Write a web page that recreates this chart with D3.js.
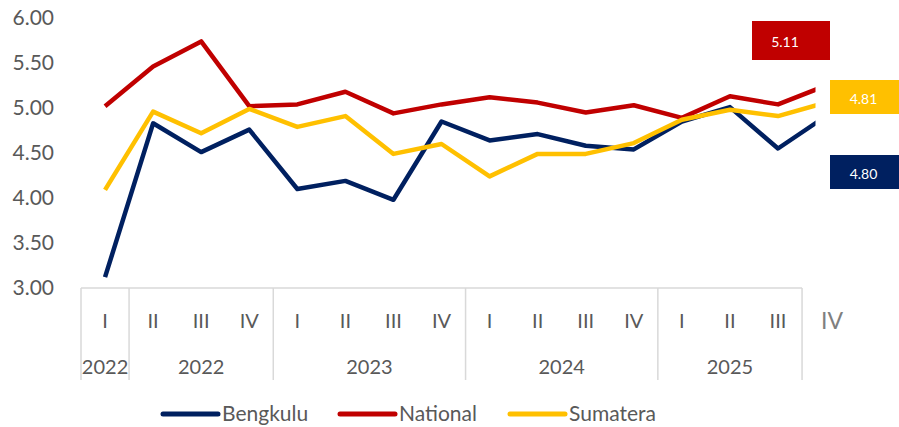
<!DOCTYPE html>
<html>
<head>
<meta charset="utf-8">
<script src="https://cdn.jsdelivr.net/npm/d3@7"></script>
<style>
  html, body { margin: 0; padding: 0; background: #fff; }
  svg { display: block; }
  text { font-family: Lato, "Open Sans", "Liberation Sans", sans-serif; }
</style>
</head>
<body>
<svg id="chart" width="899" height="427"></svg>
<script>
// ---- data ----
const quarters = ["I","II","III","IV","I","II","III","IV","I","II","III","IV","I","II","III","IV"];
const yearGroups = ["2022","2022","2023","2024","2025"];
const groupSizes = [1, 3, 4, 4, 3];
const bengkulu = [3.12,4.83,4.51,4.76,4.10,4.19,3.98,4.85,4.64,4.71,4.58,4.54,4.85,5.01,4.55,4.91];
const national = [5.02,5.46,5.74,5.02,5.04,5.18,4.94,5.04,5.12,5.06,4.95,5.03,4.89,5.13,5.04,5.25];
const sumatera = [4.09,4.96,4.72,4.99,4.79,4.91,4.49,4.60,4.24,4.49,4.49,4.61,4.87,4.98,4.91,5.06];
const seriesNames = ["Bengkulu","National","Sumatera"];
const seriesColors = ["#002060","#C00000","#FFC000"];
const latestLabels = ["4.80","5.11","4.81"];
const yTicks = [3.0,3.5,4.0,4.5,5.0,5.5,6.0];

// ---- layout ----
const svg = d3.select("#chart");
const step = 48.07;
const x0 = 81;
const x = d3.scaleBand().domain(d3.range(quarters.length)).range([x0, x0 + step * quarters.length]).padding(0);
const cx = i => x(i) + x.bandwidth() / 2;
const y = d3.scaleLinear().domain([3, 6]).range([288, 18]);
const grey = "#595959";
const axisGrey = "#d9d9d9";

// y axis labels
const yAxis = d3.axisLeft(y).tickValues(yTicks).tickFormat(d3.format(".2f")).tickSize(0).tickPadding(0);
const yg = svg.append("g").attr("transform", "translate(54,0)").call(yAxis);
yg.select(".domain").remove();
yg.selectAll("text").attr("fill", grey).style("font-size", "21px").style("font-family", "Lato, 'Open Sans', sans-serif");

// category axis box
const nBox = d3.sum(groupSizes);
const boxRight = x0 + step * nBox;
const axisG = svg.append("g");
axisG.append("line").attr("x1", x0).attr("x2", boxRight).attr("y1", 288).attr("y2", 288)
  .attr("stroke", axisGrey).attr("stroke-width", 1.5);
let acc = 0;
const bounds = [0];
groupSizes.forEach(n => { acc += n; bounds.push(acc); });
bounds.forEach(b => {
  axisG.append("line").attr("x1", x0 + step * b).attr("x2", x0 + step * b)
    .attr("y1", 288).attr("y2", 380).attr("stroke", axisGrey).attr("stroke-width", 1.5);
});
// quarter labels
quarters.forEach((q, i) => {
  const last = i >= nBox;
  axisG.append("text")
    .attr("x", cx(i) + (last ? 6 : 0)).attr("y", 320)
    .attr("text-anchor", "middle").attr("dominant-baseline", "central")
    .attr("fill", last ? "#7f7f7f" : grey)
    .style("font-size", last ? "23px" : "20px")
    .text(q);
});
// year labels
yearGroups.forEach((yr, g) => {
  const start = bounds[g], end = bounds[g + 1];
  axisG.append("text")
    .attr("x", x0 + step * (start + end) / 2).attr("y", 366)
    .attr("text-anchor", "middle").attr("dominant-baseline", "central")
    .attr("fill", grey).style("font-size", "20px")
    .text(yr);
});

// lines
svg.append("defs").append("clipPath").attr("id", "clip")
  .append("rect").attr("x", 0).attr("y", 0).attr("width", 815.5).attr("height", 427);
const line = d3.line().x((d, i) => cx(i)).y(d => y(d));
const seriesData = [bengkulu, national, sumatera];
const drawOrder = [1, 0, 2];
const lg = svg.append("g").attr("clip-path", "url(#clip)");
drawOrder.forEach(k => {
  lg.append("path").datum(seriesData[k]).attr("d", line)
    .attr("fill", "none").attr("stroke", seriesColors[k])
    .attr("stroke-width", 4.5).attr("stroke-linejoin", "round");
});

// value boxes
const boxes = [
  {x: 830, y: 155, w: 69, h: 34},
  {x: 752, y: 21, w: 78, h: 39},
  {x: 830, y: 80, w: 69, h: 34}
];
boxes.forEach((b, k) => {
  svg.append("rect").attr("x", b.x).attr("y", b.y).attr("width", b.w).attr("height", b.h)
    .attr("fill", seriesColors[k]);
  svg.append("text").attr("x", b.x + (k === 1 ? 33 : b.w / 2 - 1)).attr("y", b.y + b.h / 2 + 1)
    .attr("text-anchor", "middle").attr("dominant-baseline", "central")
    .attr("fill", "#fff").style("font-size", "14px").text(latestLabels[k]);
});

// legend
const legendX = [163, 340, 510];
seriesNames.forEach((name, k) => {
  svg.append("line").attr("x1", legendX[k]).attr("x2", legendX[k] + 55)
    .attr("y1", 414).attr("y2", 414).attr("stroke", seriesColors[k])
    .attr("stroke-width", 5).attr("stroke-linecap", "round");
  svg.append("text").attr("x", legendX[k] + 59).attr("y", 421)
    .attr("fill", grey)
    .style("font-size", "21px").text(name);
});
</script>
</body>
</html>
